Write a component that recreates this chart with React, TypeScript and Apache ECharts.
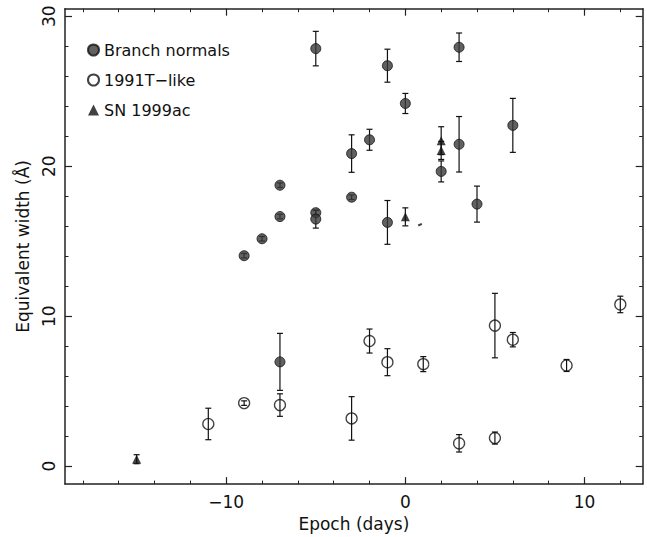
import React, { useEffect, useRef } from "react";
import * as echarts from "echarts";

const xMajor = [-10, 0, 10];
const xMinor = [-18, -16, -14, -12, -8, -6, -4, -2, 2, 4, 6, 8, 12];
const yMajor = [0, 10, 20, 30];
const yMinor = [2, 4, 6, 8, 12, 14, 16, 18, 22, 24, 26, 28];

const normalsEpoch = [-9, -8, -7, -7, -7, -5, -5, -5, -3, -3, -2, -1, -1, 0, 2, 3, 3, 4, 6];
const normalsEW = [14.03, 15.16, 18.73, 16.64, 6.95, 27.84, 16.9, 16.47, 20.84, 17.93, 21.76, 26.7, 16.25, 24.18, 19.65, 27.93, 21.46, 17.47, 22.72];
const normalsErr = [0.15, 0.15, 0.15, 0.15, 1.9, 1.15, 0.15, 0.6, 1.25, 0.15, 0.7, 1.1, 1.46, 0.67, 0.7, 0.95, 1.85, 1.2, 1.8];

const t91Epoch = [-11, -9, -7, -3, -2, -1, 1, 3, 5, 5, 6, 9, 12];
const t91EW = [2.81, 4.2, 4.07, 3.18, 8.34, 6.93, 6.8, 1.52, 9.37, 1.87, 8.43, 6.71, 10.78];
const t91Err = [1.05, 0.15, 0.75, 1.45, 0.8, 0.9, 0.5, 0.58, 2.15, 0.4, 0.48, 0.4, 0.55];

const ac99Epoch = [-15, 0, 2, 2];
const ac99EW = [0.46, 16.62, 21.7, 21.05];
const ac99Err = [0.3, 0.6, 0.93, 0.6];

const strayEpoch = [0.82];
const strayEW = [16.1];

const FONT = "DejaVu Sans";
const INK = "#111";

function errData(xs: number[], ys: number[], es: number[]) {
  return xs.map((x, i) => [x, ys[i], es[i]]);
}

function renderErr(params: any, api: any) {
  const x = api.value(0);
  const y = api.value(1);
  const e = api.value(2);
  const top = api.coord([x, y + e]);
  const bot = api.coord([x, y - e]);
  const w = 3;
  const style = { stroke: INK, lineWidth: 1.2 };
  return {
    type: "group",
    children: [
      { type: "line", shape: { x1: top[0], y1: top[1], x2: bot[0], y2: bot[1] }, style },
      { type: "line", shape: { x1: top[0] - w, y1: top[1], x2: top[0] + w, y2: top[1] }, style },
      { type: "line", shape: { x1: bot[0] - w, y1: bot[1], x2: bot[0] + w, y2: bot[1] }, style },
    ],
  };
}

export default function App() {
  const ref = useRef<HTMLDivElement>(null);
  useEffect(() => {
    if (!ref.current) return;
    const chart = echarts.init(ref.current, undefined, { renderer: "svg" });
    const axisLine = { show: true, onZero: false, lineStyle: { color: "#222", width: 1.5 } };
    const noLine = { show: false, onZero: false };
    const majorTickX = { show: true, inside: true, length: 7, customValues: xMajor, lineStyle: { color: "#222", width: 1.2 } };
    const minorTickX = { show: true, inside: true, length: 3.5, customValues: xMinor, lineStyle: { color: "#222", width: 1 } };
    const majorTickY = { show: true, inside: true, length: 7, customValues: yMajor, lineStyle: { color: "#222", width: 1.2 } };
    const minorTickY = { show: true, inside: true, length: 3.5, customValues: yMinor, lineStyle: { color: "#222", width: 1 } };
    const xBase = { type: "value", min: -19, max: 13.25, splitLine: { show: false } };
    const yBase = { type: "value", min: -1.2, max: 30.5, splitLine: { show: false } };
    const option: any = {
      animation: false,
      backgroundColor: "#fff",
      grid: { left: 65, right: 4.3, top: 8.7, bottom: 43, containLabel: false },
      legend: {
        data: ["Branch normals", "1991T\u2212like", "SN 1999ac"],
        orient: "vertical",
        left: 82,
        top: 37,
        itemGap: 14,
        itemWidth: 11,
        itemHeight: 11,
        textStyle: { fontFamily: FONT, fontSize: 16, color: INK },
      },
      xAxis: [
        {
          ...xBase,
          position: "bottom",
          axisLine,
          axisTick: majorTickX,
          axisLabel: {
            customValues: xMajor,
            fontFamily: FONT,
            fontSize: 17,
            color: INK,
            margin: 9,
            formatter: (v: number) => (v < 0 ? "\u2212" + Math.abs(v) : String(v)),
          },
          name: "Epoch (days)",
          nameLocation: "middle",
          nameGap: 23,
          nameTextStyle: { fontFamily: FONT, fontSize: 17, color: INK },
        },
        { ...xBase, position: "bottom", axisLine: noLine, axisTick: minorTickX, axisLabel: { show: false } },
        { ...xBase, position: "top", axisLine, axisTick: majorTickX, axisLabel: { show: false } },
        { ...xBase, position: "top", axisLine: noLine, axisTick: minorTickX, axisLabel: { show: false } },
      ],
      yAxis: [
        {
          ...yBase,
          position: "left",
          axisLine,
          axisTick: majorTickY,
          axisLabel: {
            customValues: yMajor,
            fontFamily: FONT,
            fontSize: 17,
            color: INK,
            rotate: 90,
            margin: 8,
          },
          name: "Equivalent width (\u00c5)",
          nameLocation: "middle",
          nameGap: 34,
          nameTextStyle: { fontFamily: FONT, fontSize: 17, color: INK },
        },
        { ...yBase, position: "left", axisLine: noLine, axisTick: minorTickY, axisLabel: { show: false } },
        { ...yBase, position: "right", axisLine, axisTick: majorTickY, axisLabel: { show: false } },
        { ...yBase, position: "right", axisLine: noLine, axisTick: minorTickY, axisLabel: { show: false } },
      ],
      series: [
        {
          type: "custom",
          name: "err-normals",
          renderItem: renderErr,
          data: errData(normalsEpoch, normalsEW, normalsErr),
          encode: { x: 0, y: 1 },
          z: 1,
        },
        {
          type: "custom",
          name: "err-t91",
          renderItem: renderErr,
          data: errData(t91Epoch, t91EW, t91Err),
          encode: { x: 0, y: 1 },
          z: 1,
        },
        {
          type: "custom",
          name: "err-ac99",
          renderItem: renderErr,
          data: errData(ac99Epoch, ac99EW, ac99Err),
          encode: { x: 0, y: 1 },
          z: 1,
        },
        {
          type: "scatter",
          name: "Branch normals",
          symbol: "circle",
          symbolSize: 10,
          itemStyle: { color: "#3a3a3a", borderColor: "#111", borderWidth: 1 },
          data: normalsEpoch.map((x, i) => [x, normalsEW[i]]),
          z: 3,
        },
        {
          type: "scatter",
          name: "1991T\u2212like",
          symbol: "circle",
          symbolSize: 11,
          itemStyle: { color: "rgba(255,255,255,0)", borderColor: "#111", borderWidth: 1.3 },
          data: t91Epoch.map((x, i) => [x, t91EW[i]]),
          z: 3,
        },
        {
          type: "scatter",
          name: "SN 1999ac",
          symbol: "triangle",
          symbolSize: 9,
          itemStyle: { color: "#111" },
          data: ac99Epoch.map((x, i) => [x, ac99EW[i]]),
          z: 3,
        },
        {
          type: "scatter",
          name: "stray",
          symbol: "rect",
          symbolSize: [4, 2],
          symbolRotate: 25,
          itemStyle: { color: "#111" },
          data: strayEpoch.map((x, i) => [x, strayEW[i]]),
          z: 3,
        },
      ],
    };
    chart.setOption(option);
    return () => chart.dispose();
  }, []);
  return (
    <div
      ref={ref}
      style={{ position: "fixed", left: 0, top: 0, width: 647, height: 537, background: "#fff" }}
    />
  );
}
